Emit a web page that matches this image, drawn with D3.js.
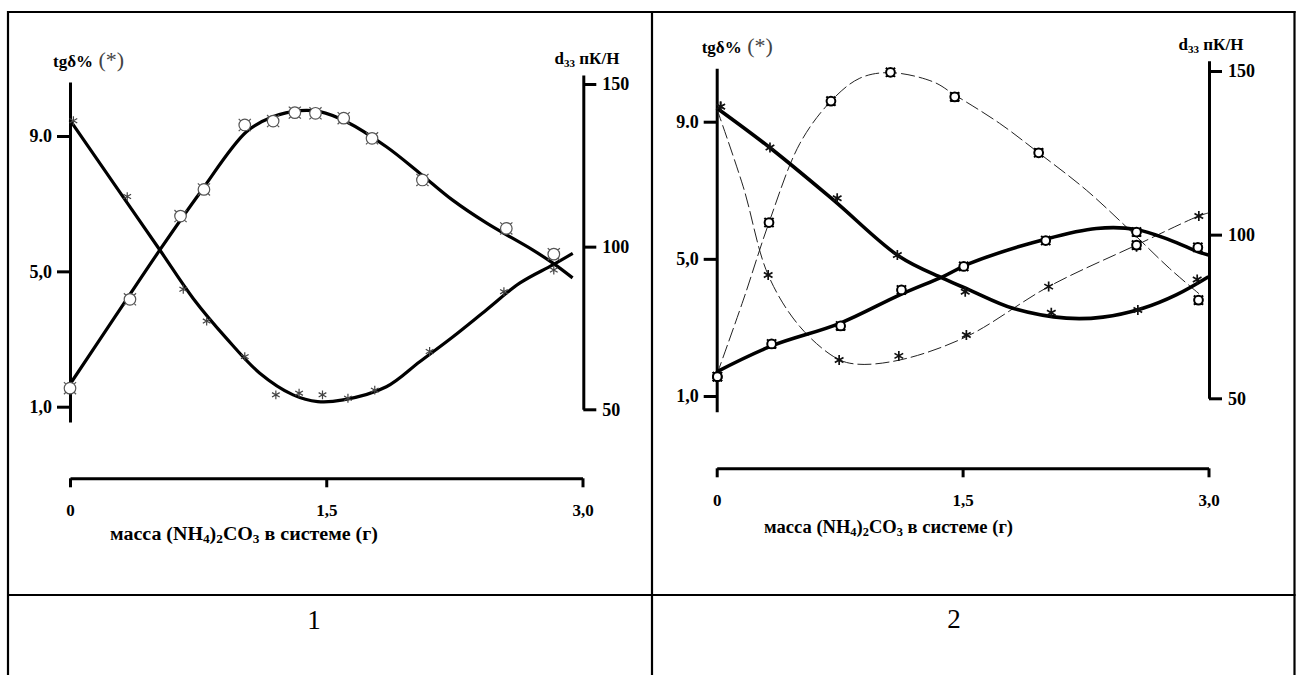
<!DOCTYPE html>
<html>
<head>
<meta charset="utf-8">
<script src="https://cdn.jsdelivr.net/npm/d3@7"></script>
<style>
  body { margin: 0; background: #fff; }
  svg text { font-family: "Liberation Serif", "Times New Roman", serif; }
</style>
</head>
<body>
<svg id="chart" width="1297" height="675"></svg>
<script>
// axis ticks
const massTicks = [0, 1.5, 3];
const massLabels = ['0', '1,5', '3,0'];
const tgTicks = [1, 5, 9];
const tgLabels = ['1,0', '5,0', '9.0'];
const d33Ticks = [50, 100, 150];
const panelNames = ['1', '2'];

// panel 1 - measured points [mass, value]
const p1TgPoints = [[0.02, 9.45], [0.335, 7.21], [0.663, 4.47], [0.80, 3.53], [1.023, 2.48], [1.205, 1.35],
  [1.341, 1.40], [1.478, 1.35], [1.627, 1.25], [1.784, 1.49], [2.105, 2.63], [2.54, 4.40], [2.832, 5.04]];
const p1D33Points = [[0, 56.5], [0.351, 83.8], [0.647, 109.4], [0.784, 117.6], [1.023, 137.4], [1.189, 138.6],
  [1.316, 141.2], [1.437, 141.0], [1.602, 139.5], [1.768, 133.3], [2.063, 120.5], [2.554, 105.6], [2.832, 97.7]];
// panel 1 - fitted curves
const p1TgCurve = [[0, 9.47], [0.263, 7.55], [0.526, 5.63], [0.721, 4.20], [0.916, 3.02], [1.111, 1.99],
  [1.306, 1.35], [1.45, 1.15], [1.599, 1.20], [1.852, 1.59], [2.047, 2.33], [2.242, 3.07], [2.437, 3.86],
  [2.632, 4.65], [2.826, 5.19], [2.943, 5.53]];
const p1D33Curve = [[0, 57.7], [0.263, 78.4], [0.526, 99.0], [0.76, 116.5], [1.033, 135.3], [1.187, 139.9],
  [1.345, 141.8], [1.462, 141.5], [1.618, 138.4], [1.852, 130.7], [2.047, 122.6], [2.24, 114.3],
  [2.437, 107.3], [2.708, 99.0], [2.825, 95.0], [2.942, 90.4]];

// panel 2 - measured points
const p2TgSolidPoints = [[0.024, 9.44], [0.325, 8.25], [0.735, 6.77], [1.102, 5.11], [1.516, 4.04],
  [2.041, 3.43], [2.569, 3.51], [2.931, 4.40]];
const p2TgDashPoints = [[0.024, 9.44], [0.314, 4.53], [0.747, 2.05], [1.111, 2.17], [1.523, 2.78],
  [2.025, 4.19], [2.561, 5.35], [2.941, 6.25]];
const p2D33SolidPoints = [[0.004, 56.6], [0.335, 66.6], [0.756, 72.1], [1.127, 83.1], [1.507, 90.3],
  [2.007, 98.2], [2.561, 100.8], [2.935, 96.1]];
const p2D33DashPoints = [[0.004, 56.6], [0.319, 103.7], [0.697, 140.8], [1.06, 149.6], [1.452, 142.1],
  [1.964, 125.0], [2.561, 96.8], [2.939, 80.0]];
// panel 2 - fitted curves
const p2TgSolidCurve = [[0, 9.40], [0.325, 8.24], [0.711, 6.72], [1.117, 5.06], [1.381, 4.43], [1.544, 4.09],
  [1.807, 3.56], [2.133, 3.27], [2.356, 3.30], [2.6, 3.56], [2.803, 3.95], [3.0, 4.48]];
const p2D33SolidCurve = [[0, 58.1], [0.335, 66.0], [0.751, 72.9], [1.117, 81.6], [1.381, 87.2], [1.544, 91.2],
  [2.01, 98.7], [2.316, 101.9], [2.559, 101.6], [2.762, 98.4], [2.945, 94.6], [3.0, 93.8]];
const p2TgDashCurve = [[0, 9.39], [0.162, 7.10], [0.314, 4.53], [0.508, 3.02], [0.731, 2.10], [0.853, 1.93],
  [1.117, 2.05], [1.523, 2.73], [2.025, 4.19], [2.559, 5.40], [2.941, 6.25], [3.0, 6.34]];
const p2D33DashCurve = [[0, 57.1], [0.162, 80.0], [0.319, 103.7], [0.508, 127.9], [0.697, 140.8], [0.873, 147.8],
  [1.06, 149.5], [1.32, 146.7], [1.452, 142.7], [1.726, 134.0], [1.964, 125.0], [2.255, 113.6],
  [2.519, 101.4], [2.762, 89.7], [2.965, 81.0]];

const panel1Series = [
  {points: p1TgPoints, curve: p1TgCurve, axis: 'tg', marker: 'star', dashed: false},
  {points: p1D33Points, curve: p1D33Curve, axis: 'd33', marker: 'ring', dashed: false}
];
const panel2Series = [
  {points: p2TgDashPoints, curve: p2TgDashCurve, axis: 'tg', marker: 'star', dashed: true},
  {points: p2D33DashPoints, curve: p2D33DashCurve, axis: 'd33', marker: 'ring', dashed: true},
  {points: p2TgSolidPoints, curve: p2TgSolidCurve, axis: 'tg', marker: 'star', dashed: false},
  {points: p2D33SolidPoints, curve: p2D33SolidCurve, axis: 'd33', marker: 'ring', dashed: false}
];

// pixel layout of each panel
const layout = [
  {
    x: [70, 582.5], tg: [406.7, 136], tgSpine: [422, 82], d33: [409.3, 84], d33Spine: [409.3, 75],
    leftX: 70, rightX: 583.3, massY: 478.3,
    tgTitle: {x: 53, y: 67}, d33Title: {x: 587, y: 64}, massTitle: {x: 110, y: 540, w: 268},
    name: {x: 314, y: 629},
    ring: {size: 105, stroke: '#555', width: 1.2}, star: {size: 55, stroke: '#444', width: 1.2},
    line: 3.2
  },
  {
    x: [716.7, 1208.5], tg: [396, 121.7], tgSpine: [411.7, 68.3], d33: [398.3, 71], d33Spine: [398.3, 60.7],
    leftX: 716.7, rightX: 1209, massY: 468.3,
    tgTitle: {x: 701.7, y: 53}, d33Title: {x: 1211, y: 50}, massTitle: {x: 764, y: 533, w: 249},
    name: {x: 954, y: 628},
    ring: {size: 60, stroke: '#000', width: 2}, star: {size: 70, stroke: '#111', width: 1.7},
    line: 3.6
  }
];

const svg = d3.select('#chart');

// table frame
const frame = svg.append('g').attr('stroke', '#000').attr('stroke-width', 2.2);
frame.append('line').attr('x1', 7).attr('x2', 1295.5).attr('y1', 12).attr('y2', 12);
frame.append('line').attr('x1', 7).attr('x2', 1295.5).attr('y1', 595).attr('y2', 595);
[8, 652, 1294.5].forEach(xx => {
  frame.append('line').attr('x1', xx).attr('x2', xx).attr('y1', 11).attr('y2', 675);
});

// circle with four small horns (the "¤" marker)
const ringSymbol = {
  draw(ctx, size){
    const r = Math.sqrt(size / Math.PI);
    ctx.moveTo(r, 0);
    ctx.arc(0, 0, r, 0, 2 * Math.PI);
    const a = r * 0.707, b = r * 1.05;
    [[1, 1], [1, -1], [-1, 1], [-1, -1]].forEach(([sx, sy]) => {
      ctx.moveTo(sx * a, sy * a);
      ctx.lineTo(sx * b, sy * b);
    });
  }
};

function styleAxis(sel, fs){
  sel.attr('font-family', null).attr('font-size', fs).attr('font-weight', 'bold');
  sel.select('.domain').attr('stroke-width', 3);
  sel.selectAll('.tick line').attr('stroke-width', 3);
  sel.selectAll('.tick text').attr('fill', '#000');
}

function drawPanel(p, series, name){
  const g = svg.append('g');
  const x = d3.scaleLinear().domain([0, 3]).range(p.x);
  const y = {
    tg: d3.scaleLinear().domain([1, 9]).range(p.tg),
    d33: d3.scaleLinear().domain([50, 150]).range(p.d33)
  };
  // same scale, stretched to the length of the drawn spine
  const spine = (s, span) => s.copy().domain(span.map(v => s.invert(v))).range(span);

  g.append('g').attr('transform', `translate(${p.leftX},0)`)
    .call(d3.axisLeft(spine(y.tg, p.tgSpine)).tickValues(tgTicks)
      .tickFormat(d => tgLabels[tgTicks.indexOf(d)]).tickSize(13).tickSizeOuter(0).tickPadding(5))
    .call(styleAxis, 18);

  g.append('g').attr('transform', `translate(${p.rightX},0)`)
    .call(d3.axisRight(spine(y.d33, p.d33Spine)).tickValues(d33Ticks)
      .tickSize(13).tickSizeOuter(0).tickPadding(6))
    .call(styleAxis, 18);

  g.append('g').attr('transform', `translate(0,${p.massY})`)
    .call(d3.axisBottom(x).tickValues(massTicks)
      .tickFormat(d => massLabels[massTicks.indexOf(d)]).tickSize(9).tickSizeOuter(0).tickPadding(17))
    .call(styleAxis, 17);

  // titles
  const tgT = g.append('text').attr('x', p.tgTitle.x).attr('y', p.tgTitle.y);
  tgT.append('tspan').attr('font-weight', 'bold').attr('font-size', 17).text('tgδ%');
  tgT.append('tspan').attr('font-size', 22).attr('fill', '#444').text(' (*)');

  const dT = g.append('text').attr('x', p.d33Title.x).attr('y', p.d33Title.y)
    .attr('text-anchor', 'middle').attr('font-weight', 'bold').attr('font-size', 17);
  dT.append('tspan').text('d');
  dT.append('tspan').attr('font-size', 11).attr('dy', 3).text('33');
  dT.append('tspan').attr('dy', -3).text(' пК/Н');

  const mT = g.append('text').attr('x', p.massTitle.x).attr('y', p.massTitle.y)
    .attr('font-weight', 'bold').attr('font-size', 18)
    .attr('textLength', p.massTitle.w).attr('lengthAdjust', 'spacingAndGlyphs');
  mT.append('tspan').text('масса (NH');
  mT.append('tspan').attr('font-size', 12).attr('dy', 3).text('4');
  mT.append('tspan').attr('dy', -3).text(')');
  mT.append('tspan').attr('font-size', 12).attr('dy', 3).text('2');
  mT.append('tspan').attr('dy', -3).text('CO');
  mT.append('tspan').attr('font-size', 12).attr('dy', 3).text('3');
  mT.append('tspan').attr('dy', -3).text(' в системе (г)');

  g.append('text').attr('x', p.name.x).attr('y', p.name.y).attr('text-anchor', 'middle')
    .attr('font-size', 27).text(name);

  // curves first, markers on top
  series.forEach(s => {
    const line = d3.line()
      .curve(d3.curveCatmullRom.alpha(0.5))
      .x(d => x(d[0]))
      .y(d => y[s.axis](d[1]));
    g.append('path')
      .attr('d', line(s.curve))
      .attr('fill', 'none')
      .attr('stroke', s.dashed ? '#222' : '#000')
      .attr('stroke-width', s.dashed ? 1 : p.line)
      .attr('stroke-dasharray', s.dashed ? '14,4' : null);
  });

  series.forEach(s => {
    const st = s.marker === 'star' ? p.star : p.ring;
    g.append('g').selectAll('path')
      .data(s.points)
      .join('path')
      .attr('transform', d => `translate(${x(d[0])},${y[s.axis](d[1])})`)
      .attr('d', d3.symbol().type(s.marker === 'star' ? d3.symbolAsterisk : ringSymbol).size(st.size))
      .attr('fill', s.marker === 'ring' ? '#fff' : 'none')
      .attr('stroke', st.stroke)
      .attr('stroke-width', st.width);
  });
}

drawPanel(layout[0], panel1Series, panelNames[0]);
drawPanel(layout[1], panel2Series, panelNames[1]);
</script>
</body>
</html>
